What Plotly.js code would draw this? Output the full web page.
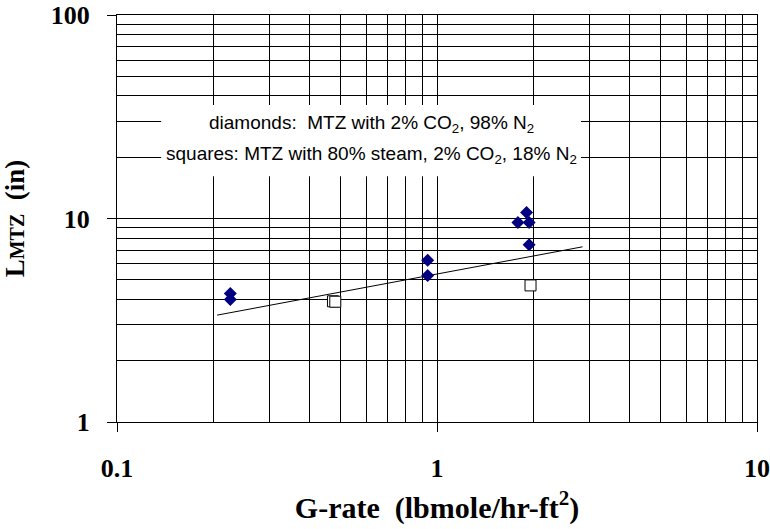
<!DOCTYPE html>
<html>
<head>
<meta charset="utf-8">
<script src="https://cdn.plot.ly/plotly-3.0.1.min.js"></script>
<style>html,body{margin:0;padding:0;background:#fff;}#chart{width:770px;height:529px;}</style>
</head>
<body>
<div id="chart"></div>
<script>
// Diamonds: MTZ with 2% CO2, 98% N2
var diamondG = [0.226, 0.226, 0.935, 0.935, 1.79, 1.905, 1.94, 1.94];
var diamondL = [4.28, 4.0, 6.24, 5.24, 9.55, 10.7, 9.55, 7.43];
// Squares: MTZ with 80% steam, 2% CO2, 18% N2
var squareG = [0.473, 0.481, 1.96];
var squareL = [3.92, 3.9, 4.69];
// Trend line end points
var trendG = [0.2055, 2.85];
var trendL = [3.35, 7.26];

var legendLines = [
  'diamonds:  MTZ with 2% CO<sub>2</sub>, 98% N<sub>2</sub>',
  'squares: MTZ with 80% steam, 2% CO<sub>2</sub>, 18% N<sub>2</sub>'
];
var xTitle = 'G-rate  (lbmole/hr-ft<sup>2</sup>)';
var yTitle = 'L<span style="font-size:20px">MTZ</span>  (in)';

var serif = 'Liberation Serif, Times New Roman, serif';
var sans = 'Liberation Sans, Arial, sans-serif';

var traces = [
  {
    x: trendG, y: trendL, mode: 'lines', type: 'scatter',
    line: {color: '#000', width: 1}, hoverinfo: 'skip', showlegend: false
  },
  {
    x: diamondG, y: diamondL, mode: 'markers', type: 'scatter',
    marker: {symbol: 'diamond', size: 10, color: '#000080', line: {width: 0}},
    showlegend: false
  },
  {
    x: squareG, y: squareL, mode: 'markers', type: 'scatter',
    marker: {symbol: 'square', size: 11, color: '#fff', line: {color: '#000', width: 1}},
    showlegend: false
  }
];

var axisCommon = {
  type: 'log',
  dtick: 1,
  exponentformat: 'none',
  showline: true, linecolor: '#000', linewidth: 1, mirror: true,
  ticks: 'outside', ticklen: 9, tickcolor: '#000', tickwidth: 1,
  showgrid: true, gridcolor: '#000', gridwidth: 1,
  zeroline: false,
  minor: {dtick: 'D1', showgrid: true, gridcolor: '#000', gridwidth: 1, ticks: ''},
  tickfont: {family: serif, size: 26, color: '#000', weight: 'bold'}
};

var layout = {
  width: 770, height: 529,
  margin: {l: 117, r: 13, t: 15, b: 107},
  paper_bgcolor: '#fff', plot_bgcolor: '#fff',
  showlegend: false,
  xaxis: Object.assign({}, axisCommon, {
    range: [-1, 1],
    ticklabelstandoff: 14,
    title: {text: xTitle, font: {family: serif, size: 30, color: '#000', weight: 'bold'}, standoff: 14}
  }),
  yaxis: Object.assign({}, axisCommon, {
    range: [0, 2],
    ticklabelstandoff: 12,
    title: {text: yTitle, font: {family: serif, size: 27, color: '#000', weight: 'bold'}, standoff: 22}
  }),
  shapes: [
    {type: 'rect', xref: 'paper', yref: 'paper', x0: 0.069, x1: 0.725, y0: 0.604, y1: 0.779,
     fillcolor: '#fff', line: {width: 0}, layer: 'above'}
  ],
  annotations: [
    {xref: 'paper', yref: 'paper', x: 0.397, y: 0.732, xanchor: 'center', yanchor: 'middle',
     text: legendLines[0], showarrow: false, font: {family: sans, size: 19, color: '#000'}},
    {xref: 'paper', yref: 'paper', x: 0.397, y: 0.656, xanchor: 'center', yanchor: 'middle',
     text: legendLines[1], showarrow: false, font: {family: sans, size: 19, color: '#000'}}
  ]
};

Plotly.newPlot('chart', traces, layout, {staticPlot: true, displayModeBar: false});
</script>
</body>
</html>
